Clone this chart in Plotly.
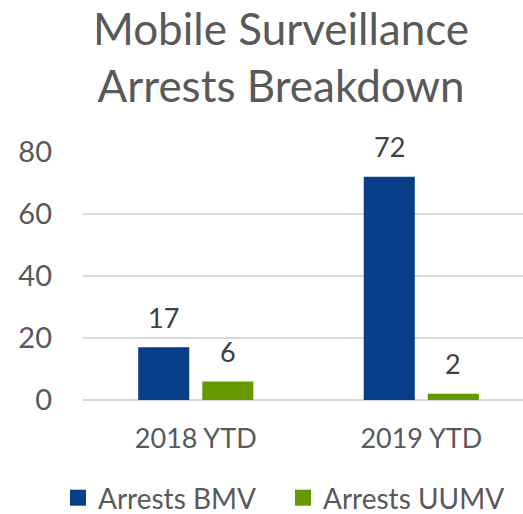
import plotly.graph_objects as go

categories = ["2018 YTD", "2019 YTD"]
bmv = [17, 72]
uumv = [6, 2]
series_names = ["Arrests BMV", "Arrests UUMV"]
colors = ["#073E87", "#669900"]
y_ticks = [0, 20, 40, 60, 80]
title_lines = ["Mobile Surveillance", "Arrests Breakdown"]

FONT = "Lato"
L, T, PW, PH = 83, 152, 440, 248

def py(pix):
    return 1 + (T - pix) / PH

def px(pix):
    return (pix - L) / PW

fig = go.Figure()
legend_ids = ["legend", "legend2"]
for name, vals, col, lg in zip(series_names, [bmv, uumv], colors, legend_ids):
    fig.add_trace(go.Bar(x=categories, y=vals, name=name, marker_color=col,
                         marker_line_width=0, showlegend=False))
    fig.add_trace(go.Scatter(x=[None], y=[None], mode="markers", name=name,
                             legend=lg,
                             marker=dict(symbol="square", size=17, color=col)))

# data labels
offsets = [-0.142, 0.142]
for vals, off in zip([bmv, uumv], offsets):
    for i, v in enumerate(vals):
        fig.add_annotation(x=i + off, y=v, text=str(v), showarrow=False,
                           yanchor="middle", yshift=30,
                           font=dict(family=FONT, size=27, color="#404040"))

fig.add_annotation(xref="paper", yref="paper", x=px(281), y=py(0),
                   xanchor="center", yanchor="top", showarrow=False,
                   text="<br>".join(title_lines), align="center",
                   font=dict(family=FONT, size=44, color="#595959"))

legend_common = dict(orientation="h", xref="container", yref="container",
                     xanchor="left", y=1 - 498 / 514, yanchor="middle",
                     font=dict(family=FONT, size=28, color="#595959"),
                     itemsizing="trace", bgcolor="rgba(0,0,0,0)")

fig.update_layout(
    width=523, height=514,
    margin=dict(l=L, r=523 - L - PW, t=T, b=514 - T - PH),
    paper_bgcolor="white", plot_bgcolor="white",
    barmode="group", bargap=0.432, bargroupgap=0.203,
    font=dict(family=FONT, size=24, color="#595959"),
    legend=dict(x=58 / 523, **legend_common),
    legend2=dict(x=283 / 523, **legend_common),
    xaxis=dict(range=[-0.5, 1.451], showgrid=False, showline=False,
               automargin=False,
               ticklabelstandoff=20, tickfont=dict(size=27, color="#595959")),
    yaxis=dict(range=[0, 80], tickvals=y_ticks, showgrid=True, automargin=False,
               gridcolor="#D9D9D9", gridwidth=1.5, zeroline=True,
               zerolinecolor="#D9D9D9", zerolinewidth=1.5,
               ticklabelstandoff=30, tickfont=dict(size=29, color="#595959")),
)
fig.write_html("out.html", config={"displayModeBar": False},
               post_script="document.body.style.margin='0';")
